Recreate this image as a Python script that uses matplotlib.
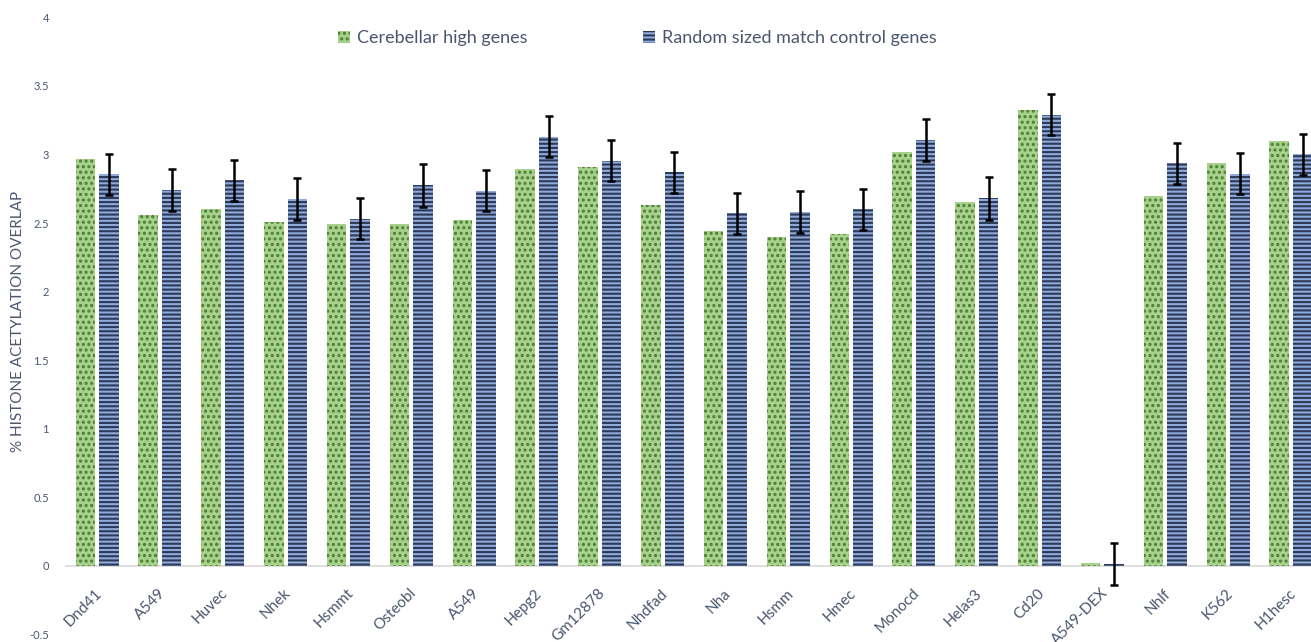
import matplotlib
matplotlib.use("Agg")
import matplotlib.pyplot as plt
import matplotlib.transforms as mtransforms
import numpy as np
from matplotlib.patches import Patch

# Cell lines and overlap percentages
cell_lines = ["Dnd41", "A549", "Huvec", "Nhek", "Hsmmt", "Osteobl", "A549", "Hepg2",
              "Gm12878", "Nhdfad", "Nha", "Hsmm", "Hmec", "Monocd", "Helas3", "Cd20",
              "A549-DEX", "Nhlf", "K562", "H1hesc"]
cerebellar_high = [2.97, 2.56, 2.60, 2.51, 2.49, 2.49, 2.52, 2.89, 2.905, 2.63,
                   2.44, 2.395, 2.42, 3.02, 2.65, 3.32, 0.02, 2.70, 2.94, 3.10]
random_control = [2.855, 2.74, 2.81, 2.675, 2.53, 2.775, 2.735, 3.13, 2.955, 2.87,
                  2.57, 2.58, 2.60, 3.105, 2.68, 3.29, 0.015, 2.935, 2.86, 3.00]
random_err = [0.15, 0.15, 0.15, 0.15, 0.15, 0.155, 0.15, 0.15, 0.15, 0.15,
              0.15, 0.155, 0.15, 0.155, 0.155, 0.15, 0.15, 0.15, 0.15, 0.15]
series_names = ["Cerebellar high genes", "Random sized match control genes"]
y_ticks = [-0.5, 0, 0.5, 1, 1.5, 2, 2.5, 3, 3.5, 4]

plt.rcParams["font.family"] = ["Lato", "DejaVu Sans"]
plt.rcParams["hatch.linewidth"] = 1.5

GREEN_FACE = "#a9d18e"
GREEN_DOT = "#4a7f30"
BLUE_FACE = "#8faadc"
BLUE_LINE = "#2c3a58"
TEXT = "#4a5670"

fig = plt.figure(figsize=(13.11, 6.42), dpi=100)
W, H = 1311, 642
# plot area runs slightly past the right edge of the canvas
ax = fig.add_axes([65.6 / W, (H - 634.6) / H, (1322.4 - 65.6) / W, (634.6 - 17.2) / H])

x = np.arange(len(cell_lines))
bw = 0.31
off = 0.187

ax.bar(x - off, cerebellar_high, bw, facecolor=GREEN_FACE, edgecolor=GREEN_DOT,
       linewidth=0, hatch="...", zorder=2)
ax.bar(x + off, random_control, bw, facecolor=BLUE_FACE, edgecolor=BLUE_LINE,
       linewidth=0, hatch="----", zorder=2)
ax.errorbar(x + off, random_control, yerr=random_err, fmt="none", ecolor="black",
            elinewidth=1.8, capsize=3, capthick=1.8, zorder=3)

for s in ax.spines.values():
    s.set_visible(False)
# category axis sits on the zero line
ax.spines["bottom"].set_position(("data", 0))
ax.spines["bottom"].set_visible(True)
ax.spines["bottom"].set_color("#d9d9d9")
ax.spines["bottom"].set_linewidth(1.2)
ax.spines["bottom"].set_zorder(1)

ax.set_xlim(-0.5, len(cell_lines) - 0.5)
ax.set_ylim(-0.5, 4)
ax.set_yticks(y_ticks)
ax.set_yticklabels([f"{t:g}" for t in y_ticks], fontsize=8, color=TEXT)
ax.set_xticks(x)
ax.set_xticklabels(cell_lines, fontsize=11, color=TEXT)
ax.tick_params(axis="both", length=0)
ax.tick_params(axis="y", pad=12)
ax.tick_params(axis="x", pad=18)
shift = mtransforms.ScaledTranslation(3 / 100, 0, fig.dpi_scale_trans)
for lbl in ax.get_xticklabels():
    lbl.set_rotation(45)
    lbl.set_ha("right")
    lbl.set_va("center")
    lbl.set_rotation_mode("anchor")
    lbl.set_transform(lbl.get_transform() + shift)

fig.text(18 / W, 0.5, "% HISTONE ACETYLATION OVERLAP", rotation=90, ha="center",
         va="center", fontsize=11, color=TEXT)

handles = [Patch(facecolor=GREEN_FACE, edgecolor=GREEN_DOT, linewidth=0, hatch="..."),
           Patch(facecolor=BLUE_FACE, edgecolor=BLUE_LINE, linewidth=0, hatch="----")]
fig.legend(handles, series_names, loc="center", bbox_to_anchor=(0.486, 1 - 38 / H),
           ncol=2, frameon=False, fontsize=13, labelcolor=TEXT,
           handlelength=0.65, handleheight=0.65, handletextpad=0.4, columnspacing=6.4)

fig.savefig("out.png", dpi=100)
